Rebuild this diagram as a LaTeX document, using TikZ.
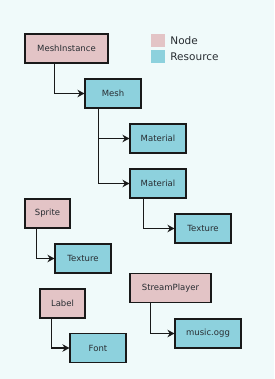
\documentclass[tikz,border=0pt]{standalone}
\usepackage{fontspec}
\setmainfont{DejaVu Sans}
\usepackage{tikz}
\usetikzlibrary{arrows.meta,positioning,calc}
\usepackage{xcolor}
\definecolor{bgcyan}{RGB}{240,250,250}
\definecolor{nodepink}{RGB}{227,196,198}
\definecolor{respblue}{RGB}{141,209,221}
\definecolor{edgegray}{RGB}{25,25,25}
\definecolor{textgray}{RGB}{40,45,50}
\tikzset{
  block/.style={rectangle, draw=edgegray, line width=1.1pt, minimum height=29pt,
                inner sep=0pt, align=center, text=textgray, font=\fontsize{8.5}{10}\selectfont},
  nodebox/.style={block, fill=nodepink},
  resbox/.style={block, fill=respblue},
  swatch/.style={rectangle, minimum width=14pt, minimum height=13pt, inner sep=0pt},
  legtext/.style={anchor=west, inner sep=0pt, text=textgray, font=\fontsize{10.5}{12}\selectfont},
  arrow/.style={-{Stealth[length=7pt,width=7.5pt]}, line width=1.1pt, edgegray},
}
\begin{document}
\begin{tikzpicture}[x=1pt, y=-1pt]
\fill[bgcyan] (0,0) rectangle (274,379);
\useasboundingbox (0,0) rectangle (274,379);

% Legend
\node[swatch, fill=nodepink] (legnode) at (158,40.5) {};
\node[swatch, fill=respblue, below=2.5pt of legnode] (legres) {};
\node[legtext, right=5pt of legnode] (legnodetxt) {Node};
\node[legtext, right=5pt of legres] (legrestxt) {Resource};

% MeshInstance tree
\node[nodebox, minimum width=83pt] (meshinst) at (66.5,48.5) {MeshInstance};
\node[resbox, minimum width=56pt] (mesh) at (113,93.5) {Mesh};
\node[resbox, minimum width=56pt] (mat1) at (158,138.5) {Material};
\node[resbox, minimum width=56pt] (mat2) at (158,183.5) {Material};
\node[resbox, minimum width=56pt] (tex1) at (203,228.5) {Texture};
\draw[arrow] ([xshift=30pt]meshinst.south west) |- (mesh.west);
\draw[arrow] ([xshift=14pt]mesh.south west) |- (mat1.west);
\draw[arrow] ([xshift=14pt]mesh.south west) |- (mat2.west);
\draw[arrow] ([xshift=14pt]mat2.south west) |- (tex1.west);

% Sprite
\node[nodebox, minimum width=45pt] (sprite) at (47.5,213.5) {Sprite};
\node[resbox, minimum width=56pt] (tex2) at (83,258.5) {Texture};
\draw[arrow] ([xshift=12pt]sprite.south west) |- (tex2.west);

% Label
\node[nodebox, minimum width=45pt] (label) at (62.5,303.5) {Label};
\node[resbox, minimum width=56pt] (font) at (98,348) {Font};
\draw[arrow] ([xshift=12pt]label.south west) |- (font.west);

% StreamPlayer
\node[nodebox, minimum width=81pt] (stream) at (170.5,288) {StreamPlayer};
\node[resbox, minimum width=66pt] (music) at (208,333.5) {music.ogg};
\draw[arrow] ([xshift=21pt]stream.south west) |- (music.west);
\end{tikzpicture}
\end{document}
